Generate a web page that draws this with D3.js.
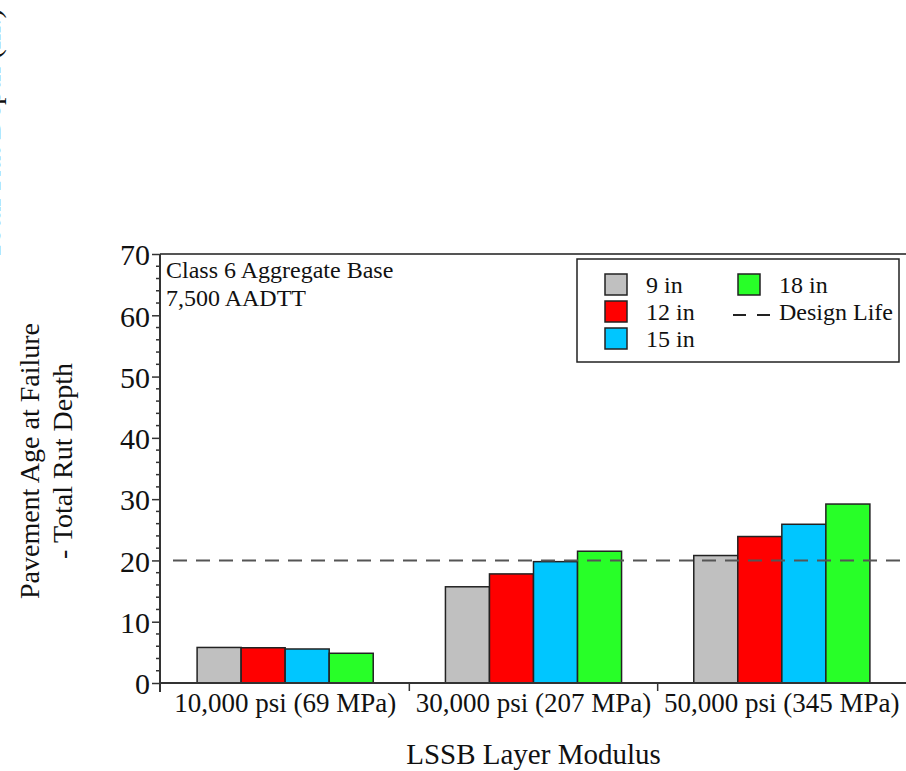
<!DOCTYPE html>
<html>
<head>
<meta charset="utf-8">
<script src="https://cdn.jsdelivr.net/npm/d3@7/dist/d3.min.js"></script>
<style>
  html, body { margin: 0; padding: 0; background: #fff; }
  svg { display: block; font-family: "Liberation Serif", "Times New Roman", serif; }
</style>
</head>
<body>
<svg id="chart" width="906" height="771"></svg>
<script>
// LSSB layer modulus categories and the pavement age (years) at rut-depth failure
const categories = ["10,000 psi (69 MPa)", "30,000 psi (207 MPa)", "50,000 psi (345 MPa)"];
const seriesNames = ["9 in", "12 in", "15 in", "18 in"];
const seriesColors = ["#c0c0c0", "#ff0000", "#00c6ff", "#28ff28"];
const values9in  = [5.8, 15.7, 20.8];
const values12in = [5.75, 17.8, 23.9];
const values15in = [5.55, 19.8, 25.9];
const values18in = [4.85, 21.5, 29.2];
const designLife = 20;
const yTicks = [0, 10, 20, 30, 40, 50, 60, 70];

const seriesValues = [values9in, values12in, values15in, values18in];
const rows = categories.map((c, i) => ({
  category: c,
  bars: seriesNames.map((s, j) => ({ series: s, value: seriesValues[j][i], color: seriesColors[j] }))
}));

const svg = d3.select("#chart");
const plotLeft = 161, plotRight = 906, plotTop = 254, plotBottom = 683;

const x = d3.scaleBand().domain(categories).range([plotLeft, plotRight]).paddingInner(0).paddingOuter(0);
const xSub = d3.scaleBand().domain(seriesNames).range([0, x.bandwidth()]).paddingInner(0).paddingOuter(0.82);
const y = d3.scaleLinear().domain([0, 70]).range([plotBottom, plotTop]);

const axisColor = "#333";

// frame top line
svg.append("line")
  .attr("x1", plotLeft - 1).attr("x2", plotRight).attr("y1", plotTop).attr("y2", plotTop)
  .attr("stroke", "#555").attr("stroke-width", 2);

// bars
const groups = svg.append("g").selectAll("g").data(rows).join("g")
  .attr("transform", d => `translate(${x(d.category)},0)`);
groups.selectAll("rect").data(d => d.bars).join("rect")
  .attr("x", d => xSub(d.series))
  .attr("width", xSub.bandwidth())
  .attr("y", d => y(d.value))
  .attr("height", d => y(0) - y(d.value))
  .attr("fill", d => d.color)
  .attr("stroke", "#222")
  .attr("stroke-width", 1.5);

// design life reference line
svg.append("line")
  .attr("x1", 173).attr("x2", plotRight)
  .attr("y1", y(designLife)).attr("y2", y(designLife))
  .attr("stroke", "#555").attr("stroke-width", 2)
  .attr("stroke-dasharray", "14,9");

// y axis: major ticks with labels, minor ticks every 2
const yAxis = d3.axisLeft(y).tickValues(yTicks).tickSize(8).tickPadding(4).tickFormat(d3.format("d"));
const yg = svg.append("g").attr("transform", `translate(${plotLeft - 1},0)`).call(yAxis);
yg.select(".domain").remove();
yg.selectAll(".tick line").attr("stroke", axisColor).attr("stroke-width", 1.5);
yg.selectAll(".tick text")
  .attr("font-family", "Liberation Serif").attr("font-size", 30).attr("fill", "#111")
  .attr("x", -10).attr("dy", "0.36em");
const minorTicks = d3.range(0, 71, 2).filter(v => v % 10 !== 0);
svg.append("g").selectAll("line").data(minorTicks).join("line")
  .attr("x1", plotLeft - 5).attr("x2", plotLeft - 1)
  .attr("y1", d => y(d)).attr("y2", d => y(d))
  .attr("stroke", axisColor).attr("stroke-width", 1.5);
svg.append("line")
  .attr("x1", plotLeft - 1).attr("x2", plotLeft - 1).attr("y1", plotTop).attr("y2", plotBottom + 9)
  .attr("stroke", axisColor).attr("stroke-width", 2);

// x axis: labels centred on categories, ticks at category boundaries
const xAxis = d3.axisBottom(x).tickSize(0).tickPadding(0);
const xg = svg.append("g").attr("transform", `translate(0,${plotBottom})`).call(xAxis);
xg.select(".domain").remove();
xg.selectAll(".tick text")
  .attr("font-family", "Liberation Serif").attr("font-size", 27).attr("fill", "#111")
  .attr("y", 29).attr("dy", 0);
svg.append("line")
  .attr("x1", plotLeft - 1).attr("x2", plotRight).attr("y1", plotBottom).attr("y2", plotBottom)
  .attr("stroke", axisColor).attr("stroke-width", 2);
svg.append("g").selectAll("line").data(categories.slice(1)).join("line")
  .attr("x1", d => x(d)).attr("x2", d => x(d))
  .attr("y1", plotBottom).attr("y2", plotBottom + 8)
  .attr("stroke", axisColor).attr("stroke-width", 1.5);

// axis titles
svg.append("text")
  .attr("x", (plotLeft + plotRight) / 2).attr("y", 764)
  .attr("text-anchor", "middle").attr("font-size", 29).attr("fill", "#111")
  .text("LSSB Layer Modulus");
const yTitle = svg.append("text")
  .attr("transform", "translate(0,461) rotate(-90)")
  .attr("text-anchor", "middle").attr("font-size", 28).attr("fill", "#111");
yTitle.append("tspan").attr("x", 0).attr("y", 39).text("Pavement Age at Failure");
yTitle.append("tspan").attr("x", 0).attr("y", 72).text("- Total Rut Depth");

// neighbouring panel's axis title, running off the left edge
svg.append("text")
  .attr("transform", "translate(0,134) rotate(-90)")
  .attr("text-anchor", "middle").attr("font-size", 30).attr("fill", "#111")
  .text("Total Rut Depth (in.)");

// annotation
const note = svg.append("text").attr("font-size", 24).attr("fill", "#111");
note.append("tspan").attr("x", 166).attr("y", 278).text("Class 6 Aggregate Base");
note.append("tspan").attr("x", 166).attr("y", 306).text("7,500 AADTT");

// legend
const legend = svg.append("g");
legend.append("rect")
  .attr("x", 577).attr("y", 259).attr("width", 322).attr("height", 103)
  .attr("fill", "#fff").attr("stroke", "#222").attr("stroke-width", 1.5);
const legendPos = [
  { sx: 605, sy: 274, tx: 646 },
  { sx: 605, sy: 301, tx: 646 },
  { sx: 605, sy: 328, tx: 646 },
  { sx: 738, sy: 274, tx: 779 }
];
const legendItems = seriesNames.map((s, i) => ({ name: s, color: seriesColors[i], pos: legendPos[i] }));
const li = legend.selectAll("g.item").data(legendItems).join("g").attr("class", "item");
li.append("rect")
  .attr("x", d => d.pos.sx).attr("y", d => d.pos.sy).attr("width", 22).attr("height", 21)
  .attr("fill", d => d.color).attr("stroke", "#222").attr("stroke-width", 1.5);
li.append("text")
  .attr("x", d => d.pos.tx).attr("y", d => d.pos.sy + 19)
  .attr("font-size", 24).attr("fill", "#111").text(d => d.name);
legend.append("line")
  .attr("x1", 733).attr("x2", 771).attr("y1", 315).attr("y2", 315)
  .attr("stroke", "#222").attr("stroke-width", 2).attr("stroke-dasharray", "13,11");
legend.append("text")
  .attr("x", 779).attr("y", 320).attr("font-size", 24).attr("fill", "#111")
  .text("Design Life");
</script>
</body>
</html>
